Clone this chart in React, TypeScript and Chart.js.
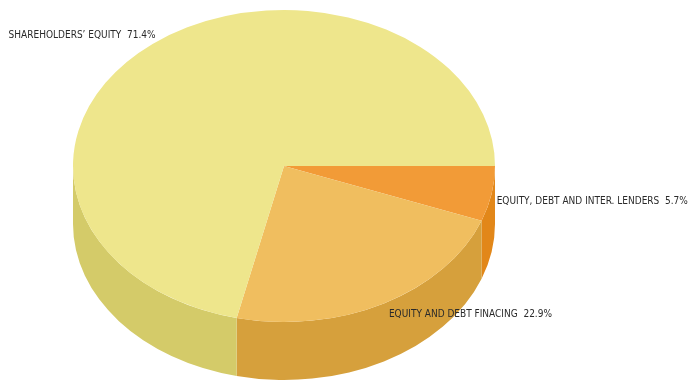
import React, { useEffect, useRef } from "react";
import { Chart, registerables } from "chart.js";

Chart.register(...registerables);

const categories = [
  "EQUITY, DEBT AND INTER. LENDERS",
  "EQUITY AND DEBT FINACING",
  "SHAREHOLDERS\u2019 EQUITY",
];
const shares = [5.7, 22.9, 71.4];
const topColors = ["#F29B37", "#F0BE5F", "#EEE68C"];
const sideColors = ["#E28719", "#D6A03C", "#D4CB69"];

const STRETCH = 211 / 156;
const DEPTH = 58;

const pie3d = {
  id: "pie3d",
  beforeDatasetsDraw(chart: any) {
    const ctx = chart.ctx;
    const meta = chart.getDatasetMeta(0);
    if (!meta.data.length) return;
    const first = meta.data[0].getProps(["x", "y", "outerRadius"], true);
    const cx = first.x, cy = first.y;
    const ry = first.outerRadius;
    const rx = ry * STRETCH;
    ctx.save();
    meta.data.forEach((arc: any, i: number) => {
      const p = arc.getProps(["startAngle", "endAngle"], true);
      const a = Math.max(p.startAngle, 0);
      const b = Math.min(p.endAngle, Math.PI);
      if (b <= a) return;
      ctx.beginPath();
      ctx.ellipse(cx, cy, rx, ry, 0, a, b, false);
      ctx.ellipse(cx, cy + DEPTH, rx, ry, 0, b, a, true);
      ctx.closePath();
      ctx.fillStyle = sideColors[i];
      ctx.fill();
    });
    ctx.translate(cx, cy);
    ctx.scale(STRETCH, 1);
    ctx.translate(-cx, -cy);
  },
  afterDatasetsDraw(chart: any) {
    chart.ctx.restore();
    const ctx = chart.ctx;
    const meta = chart.getDatasetMeta(0);
    if (!meta.data.length) return;
    const first = meta.data[0].getProps(["x", "y", "outerRadius"], true);
    const cx = first.x, cy = first.y;
    const ry = first.outerRadius;
    const rx = ry * STRETCH;
    ctx.save();
    ctx.font = "10px 'DejaVu Sans Condensed', 'DejaVu Sans', sans-serif";
    ctx.fillStyle = "#2a2a2a";
    ctx.textBaseline = "middle";
    meta.data.forEach((arc: any, i: number) => {
      const p = arc.getProps(["startAngle", "endAngle"], true);
      const m = (p.startAngle + p.endAngle) / 2;
      const px = cx + rx * Math.cos(m);
      const py = cy + ry * Math.sin(m);
      const right = Math.cos(m) >= 0;
      const text = `${categories[i]}  ${shares[i].toFixed(1)}%`;
      ctx.textAlign = right ? "left" : "right";
      const x = right ? px + 5 : px + 3;
      const y = Math.sin(m) >= 0 ? py + 7 + 5 * Math.sin(m) : py - 9;
      ctx.fillText(text, x, y);
    });
    ctx.restore();
  },
};

export default function App() {
  const ref = useRef<HTMLCanvasElement | null>(null);
  useEffect(() => {
    document.body.style.margin = "0";
    const chart = new Chart(ref.current as HTMLCanvasElement, {
      type: "pie",
      data: {
        labels: categories,
        datasets: [
          {
            data: shares,
            backgroundColor: topColors,
            borderWidth: 0,
            clip: false,
          } as any,
        ],
      },
      options: {
        responsive: false,
        animation: false,
        rotation: 90,
        layout: { padding: { left: 128, right: 253, top: 10, bottom: 59 } },
        plugins: {
          legend: { display: false },
          tooltip: { enabled: false },
        },
      },
      plugins: [pie3d],
    });
    return () => chart.destroy();
  }, []);
  return (
    <div style={{ position: "absolute", left: 0, top: 0, width: 693, height: 381, background: "#ffffff" }}>
      <canvas ref={ref} width={693} height={381} />
    </div>
  );
}
